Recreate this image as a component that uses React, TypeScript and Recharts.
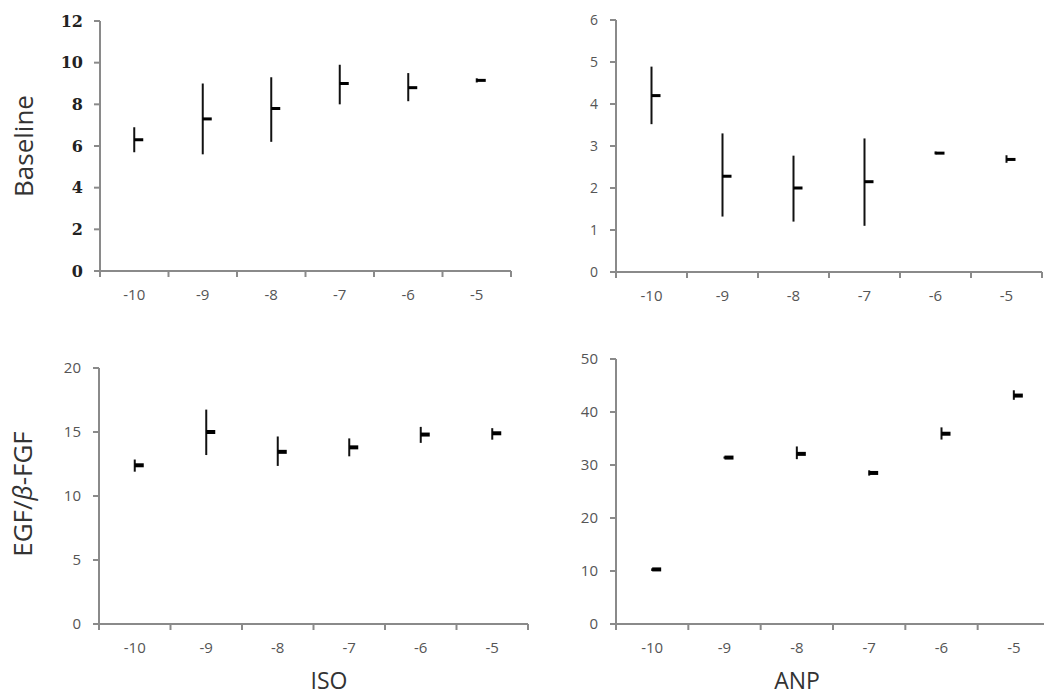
import { ComposedChart, ErrorBar, Scatter, XAxis, YAxis } from "recharts";

const doses = ["-10", "-9", "-8", "-7", "-6", "-5"];

// Baseline, ISO
const isoBaseMean = [6.3, 7.3, 7.8, 9.0, 8.8, 9.15];
const isoBaseLow = [5.7, 5.6, 6.2, 8.0, 8.15, 9.05];
const isoBaseHigh = [6.9, 9.0, 9.3, 9.9, 9.5, 9.25];

// Baseline, ANP
const anpBaseMean = [4.2, 2.28, 2.0, 2.15, 2.83, 2.68];
const anpBaseLow = [3.52, 1.32, 1.2, 1.1, 2.8, 2.6];
const anpBaseHigh = [4.89, 3.3, 2.77, 3.18, 2.87, 2.78];

// EGF/β-FGF, ISO
const isoEgfMean = [12.4, 15.0, 13.45, 13.8, 14.8, 14.9];
const isoEgfLow = [11.9, 13.2, 12.35, 13.1, 14.15, 14.4];
const isoEgfHigh = [12.85, 16.75, 14.65, 14.5, 15.4, 15.3];

// EGF/β-FGF, ANP
const anpEgfMean = [10.3, 31.4, 32.1, 28.5, 35.9, 43.1];
const anpEgfLow = [10.0, 31.2, 31.1, 28.0, 34.8, 42.3];
const anpEgfHigh = [10.5, 31.6, 33.5, 29.0, 37.1, 44.1];

const isoBaseTicks = [0, 2, 4, 6, 8, 10, 12];
const anpBaseTicks = [0, 1, 2, 3, 4, 5, 6];
const isoEgfTicks = [0, 5, 10, 15, 20];
const anpEgfTicks = [0, 10, 20, 30, 40, 50];

const AXIS = "#8a8a8a";
const SANS = "'Open Sans', sans-serif";

// tick marks sit on category edges (whole numbers), labels on centres (halves)
const xTicks = Array.from({ length: doses.length * 2 + 1 }, (_, k) => k / 2);

function DoseTick(t: any) {
  const v = t.payload.value as number;
  if (Number.isInteger(v)) {
    return <line x1={t.x} x2={t.x} y1={t.y} y2={t.y + 6} stroke={AXIS} strokeWidth={2} />;
  }
  return (
    <text x={t.x} y={t.y + 18} dy="0.71em" textAnchor="middle" fill="#555" fontSize={15} fontFamily={SANS}>
      {doses[Math.floor(v)]}
    </text>
  );
}

type PanelProps = {
  left: number;
  top: number;
  width: number;
  height: number;
  marginTop: number;
  yWidth: number;
  yTicks: number[];
  mean: number[];
  low: number[];
  high: number[];
  tick: Record<string, string | number>;
  tickMargin: number;
  dash: number;
};

const EXTRA = 16; // room under the axis so tick labels are not clipped

function Panel(p: PanelProps) {
  const data = doses.map((dose, i) => ({
    dose,
    pos: i + 0.5,
    mean: p.mean[i],
    err: [p.mean[i] - p.low[i], p.high[i] - p.mean[i]],
  }));

  const MeanDash = (s: any) => (
    <rect x={s.cx} y={s.cy - p.dash / 2} width={9} height={p.dash} fill="#000" />
  );

  return (
    <div style={{ position: "absolute", left: p.left, top: p.top }}>
      <ComposedChart
        width={p.width}
        height={p.height + EXTRA}
        data={data}
        margin={{ top: p.marginTop, right: 5, bottom: EXTRA, left: 0 }}
      >
        <XAxis
          dataKey="pos"
          type="number"
          domain={[0, doses.length]}
          ticks={xTicks}
          interval={0}
          allowDataOverflow
          height={30}
          tickSize={0}
          tickMargin={0}
          tickLine={false}
          axisLine={{ stroke: AXIS, strokeWidth: 2 }}
          tick={DoseTick}
        />
        <YAxis
          width={p.yWidth}
          domain={[0, p.yTicks[p.yTicks.length - 1]]}
          ticks={p.yTicks}
          interval={0}
          allowDataOverflow
          tickSize={6}
          tickMargin={p.tickMargin}
          axisLine={{ stroke: AXIS, strokeWidth: 2 }}
          tickLine={{ stroke: AXIS, strokeWidth: 2 }}
          tick={p.tick}
        />
        <Scatter dataKey="mean" shape={MeanDash} isAnimationActive={false}>
          <ErrorBar dataKey="err" direction="y" width={0} stroke="#111" strokeWidth={2} isAnimationActive={false} />
        </Scatter>
      </ComposedChart>
    </div>
  );
}

const greyTick = { fill: "#555", fontSize: 15, fontFamily: SANS };

export default function App() {
  return (
    <div
      style={{
        position: "absolute",
        left: 0,
        top: 0,
        width: 1044,
        height: 696,
        overflow: "hidden",
        background: "#fff",
      }}
    >
      <Panel
        left={0}
        top={0}
        width={516}
        height={301}
        marginTop={21}
        yWidth={100}
        yTicks={isoBaseTicks}
        mean={isoBaseMean}
        low={isoBaseLow}
        high={isoBaseHigh}
        tick={{ fill: "#222", fontSize: 16, fontWeight: 700, fontFamily: "'DejaVu Serif', serif" }}
        tickMargin={11}
        dash={3}
      />
      <Panel
        left={520}
        top={0}
        width={527}
        height={302}
        marginTop={20}
        yWidth={96}
        yTicks={anpBaseTicks}
        mean={anpBaseMean}
        low={anpBaseLow}
        high={anpBaseHigh}
        tick={{ ...greyTick, fontSize: 14 }}
        tickMargin={12}
        dash={3}
      />
      <Panel
        left={0}
        top={300}
        width={533}
        height={354}
        marginTop={68}
        yWidth={99}
        yTicks={isoEgfTicks}
        mean={isoEgfMean}
        low={isoEgfLow}
        high={isoEgfHigh}
        tick={greyTick}
        tickMargin={12}
        dash={4}
      />
      <Panel
        left={520}
        top={300}
        width={535}
        height={354}
        marginTop={59}
        yWidth={96}
        yTicks={anpEgfTicks}
        mean={anpEgfMean}
        low={anpEgfLow}
        high={anpEgfHigh}
        tick={greyTick}
        tickMargin={12}
        dash={4}
      />
      <svg
        width={1044}
        height={696}
        style={{ position: "absolute", left: 0, top: 0, pointerEvents: "none" }}
      >
        <g fontFamily={SANS} fill="#333">
          <text transform="translate(33,146) rotate(-90)" textAnchor="middle" fontSize={26}>
            Baseline
          </text>
          <text transform="translate(32,494) rotate(-90)" textAnchor="middle" fontSize={26}>
            EGF/<tspan fontStyle="italic">β</tspan>-FGF
          </text>
          <text x={329} y={689} textAnchor="middle" fontSize={23}>
            ISO
          </text>
          <text x={797} y={689} textAnchor="middle" fontSize={23}>
            ANP
          </text>
        </g>
      </svg>
    </div>
  );
}
